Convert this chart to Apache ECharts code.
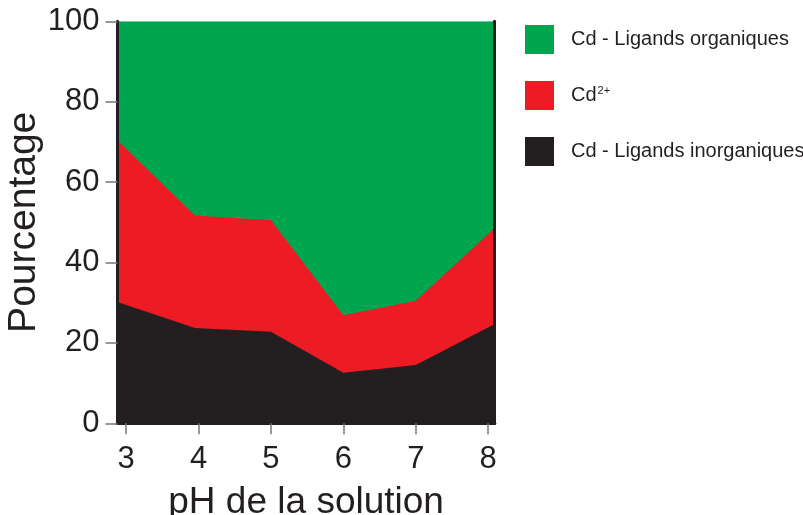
<!DOCTYPE html>
<html>
<head>
<meta charset="utf-8">
<script src="https://cdn.jsdelivr.net/npm/echarts@6/dist/echarts.min.js"></script>
<style>
  html, body { margin: 0; padding: 0; background: #fff; }
  #chart { width: 803px; height: 515px; }
</style>
</head>
<body>
<div id="chart"></div>
<script>
// pH positions of the vertices (edges of the plot included)
var phValues = [2.88, 3.95, 5.0, 6.0, 7.0, 8.09];
var phTicks = [3, 4, 5, 6, 7, 8];
// percentages, bottom to top
var inorganic = [30.2, 23.7, 22.8, 12.6, 14.5, 24.7];
var freeCd = [40.2, 28.0, 27.7, 14.3, 16.0, 23.9];
var organic = [29.6, 48.3, 49.5, 73.1, 69.5, 51.4];

var names = ["Cd - Ligands organiques", "Cd2+", "Cd - Ligands inorganiques"];
var dark = "#231f20";
var font = "Liberation Sans";

// cumulative tops, each area is filled down to 0 and painted over the one above
var topBlack = inorganic.slice();
var topRed = inorganic.map(function (v, i) { return v + freeCd[i]; });
var topGreen = topRed.map(function (v, i) { return v + organic[i]; });

function pairs(vals) {
  return vals.map(function (v, i) { return [phValues[i], v]; });
}

function area(name, vals, color, z) {
  return {
    name: name,
    type: "line",
    z: z,
    symbol: "none",
    lineStyle: { width: 0 },
    areaStyle: { color: color, opacity: 1, origin: "start" },
    itemStyle: { color: color },
    data: pairs(vals)
  };
}

var chart = echarts.init(document.getElementById("chart"));
chart.setOption({
  animation: false,
  grid: { left: 117.5, top: 21.3, right: 308.3, bottom: 91.7, outerBoundsMode: "none" },
  legend: {
    data: names,
    orient: "vertical",
    left: 525,
    top: 25,
    padding: 0,
    icon: "rect",
    itemWidth: 29,
    itemHeight: 29,
    itemGap: 27,
    selectedMode: false,
    formatter: function (n) {
      return n === "Cd2+" ? "{b|Cd}{s|2+}" : "{b|" + n + "}";
    },
    textStyle: {
      padding: [0, 0, 0, 12],
      rich: {
        b: { fontFamily: font, fontSize: 20, color: dark },
        s: { fontFamily: font, fontSize: 11, color: dark, padding: [0, 0, 9, 1] }
      }
    }
  },
  xAxis: [{
    type: "value",
    min: 2.88,
    max: 8.09,
    z: 10,
    name: "pH de la solution",
    nameLocation: "middle",
    nameGap: 61,
    nameTextStyle: { fontFamily: font, fontSize: 37, color: dark },
    axisLine: { show: true, lineStyle: { color: dark, width: 3 } },
    axisTick: { show: true, length: 11, customValues: phTicks, lineStyle: { color: "#77787b", width: 1.5 } },
    axisLabel: { customValues: phTicks, margin: 21, fontFamily: font, fontSize: 31, color: dark },
    splitLine: { show: false }
  }, {
    type: "value",
    position: "top",
    min: 2.88,
    max: 8.09,
    z: 10,
    axisLine: { show: true, lineStyle: { color: dark, width: 3 } },
    axisTick: { show: false },
    axisLabel: { show: false },
    splitLine: { show: false }
  }],
  yAxis: [{
    type: "value",
    min: 0,
    max: 100,
    interval: 20,
    z: 10,
    name: "Pourcentage",
    nameLocation: "middle",
    nameGap: 63,
    nameTextStyle: { fontFamily: font, fontSize: 39, color: dark },
    axisLine: { show: true, lineStyle: { color: dark, width: 3 } },
    axisTick: { show: true, length: 12, lineStyle: { color: "#77787b", width: 1.5 } },
    axisLabel: { margin: 18, fontFamily: font, fontSize: 31, color: dark },
    splitLine: { show: false }
  }, {
    type: "value",
    position: "right",
    min: 0,
    max: 100,
    z: 10,
    axisLine: { show: true, lineStyle: { color: dark, width: 3 } },
    axisTick: { show: false },
    axisLabel: { show: false },
    splitLine: { show: false }
  }],
  series: [
    area(names[0], topGreen, "#00a54f", 2),
    area(names[1], topRed, "#ed1c24", 3),
    area(names[2], topBlack, "#231f20", 4)
  ]
});
</script>
</body>
</html>
